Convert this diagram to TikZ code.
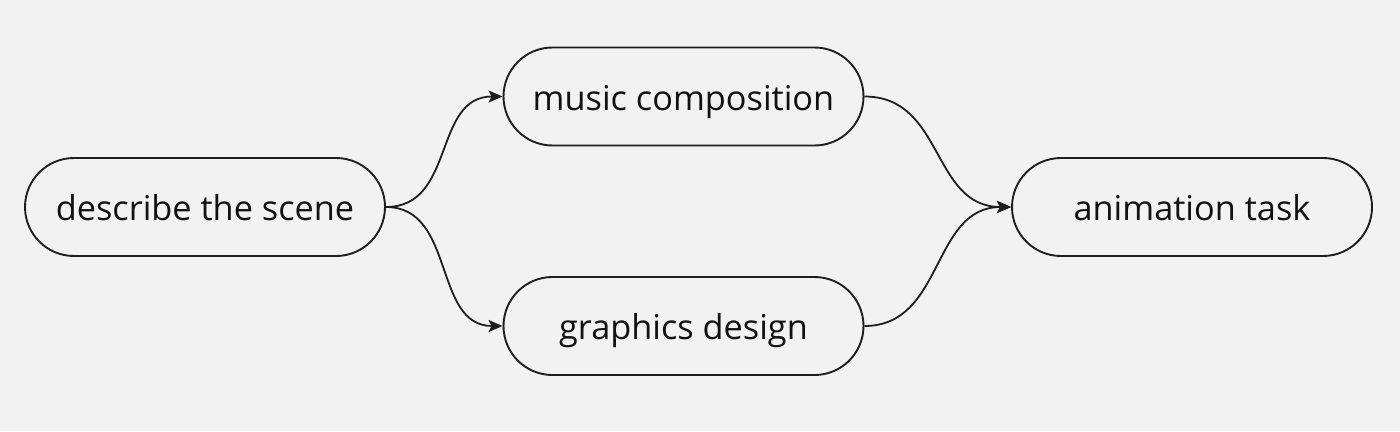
\documentclass[tikz,border=0pt]{standalone}
\usepackage{fontspec}
\setmainfont{Open Sans}
\usetikzlibrary{arrows.meta}
\definecolor{bg}{HTML}{F2F2F2}
\definecolor{ink}{HTML}{1E1E1E}
\definecolor{txt}{HTML}{111111}
\begin{document}
\begin{tikzpicture}[x=1pt,y=-1pt,
  pill/.style={draw=ink, line width=1.9pt, rounded corners=49pt, minimum width=360pt, minimum height=98pt, inner sep=0pt, text height=27pt, text depth=0pt, font=\fontsize{34.3}{40}\selectfont, text=txt},
  conn/.style={draw=ink, line width=1.8pt, -{Stealth[length=14pt,width=12pt,inset=3pt]}}]
\fill[bg] (0,0) rectangle (1400,431);
\useasboundingbox (0,0) rectangle (1400,431);
\node[pill] (scene) at (205,207) {describe the scene};
\node[pill] (music) at (683.5,96.5) {music composition};
\node[pill] (graph) at (683.5,326) {graphics design};
\node[pill] (anim) at (1192,207) {animation task};
\draw[conn] (scene.east) .. controls +(70,0) and +(-70,0) .. (music.west);
\draw[conn] (scene.east) .. controls +(70,0) and +(-70,0) .. (graph.west);
\draw[conn] (music.east) .. controls +(80,0) and +(-80,0) .. (anim.west);
\draw[conn] (graph.east) .. controls +(80,0) and +(-80,0) .. (anim.west);
\end{tikzpicture}
\end{document}
